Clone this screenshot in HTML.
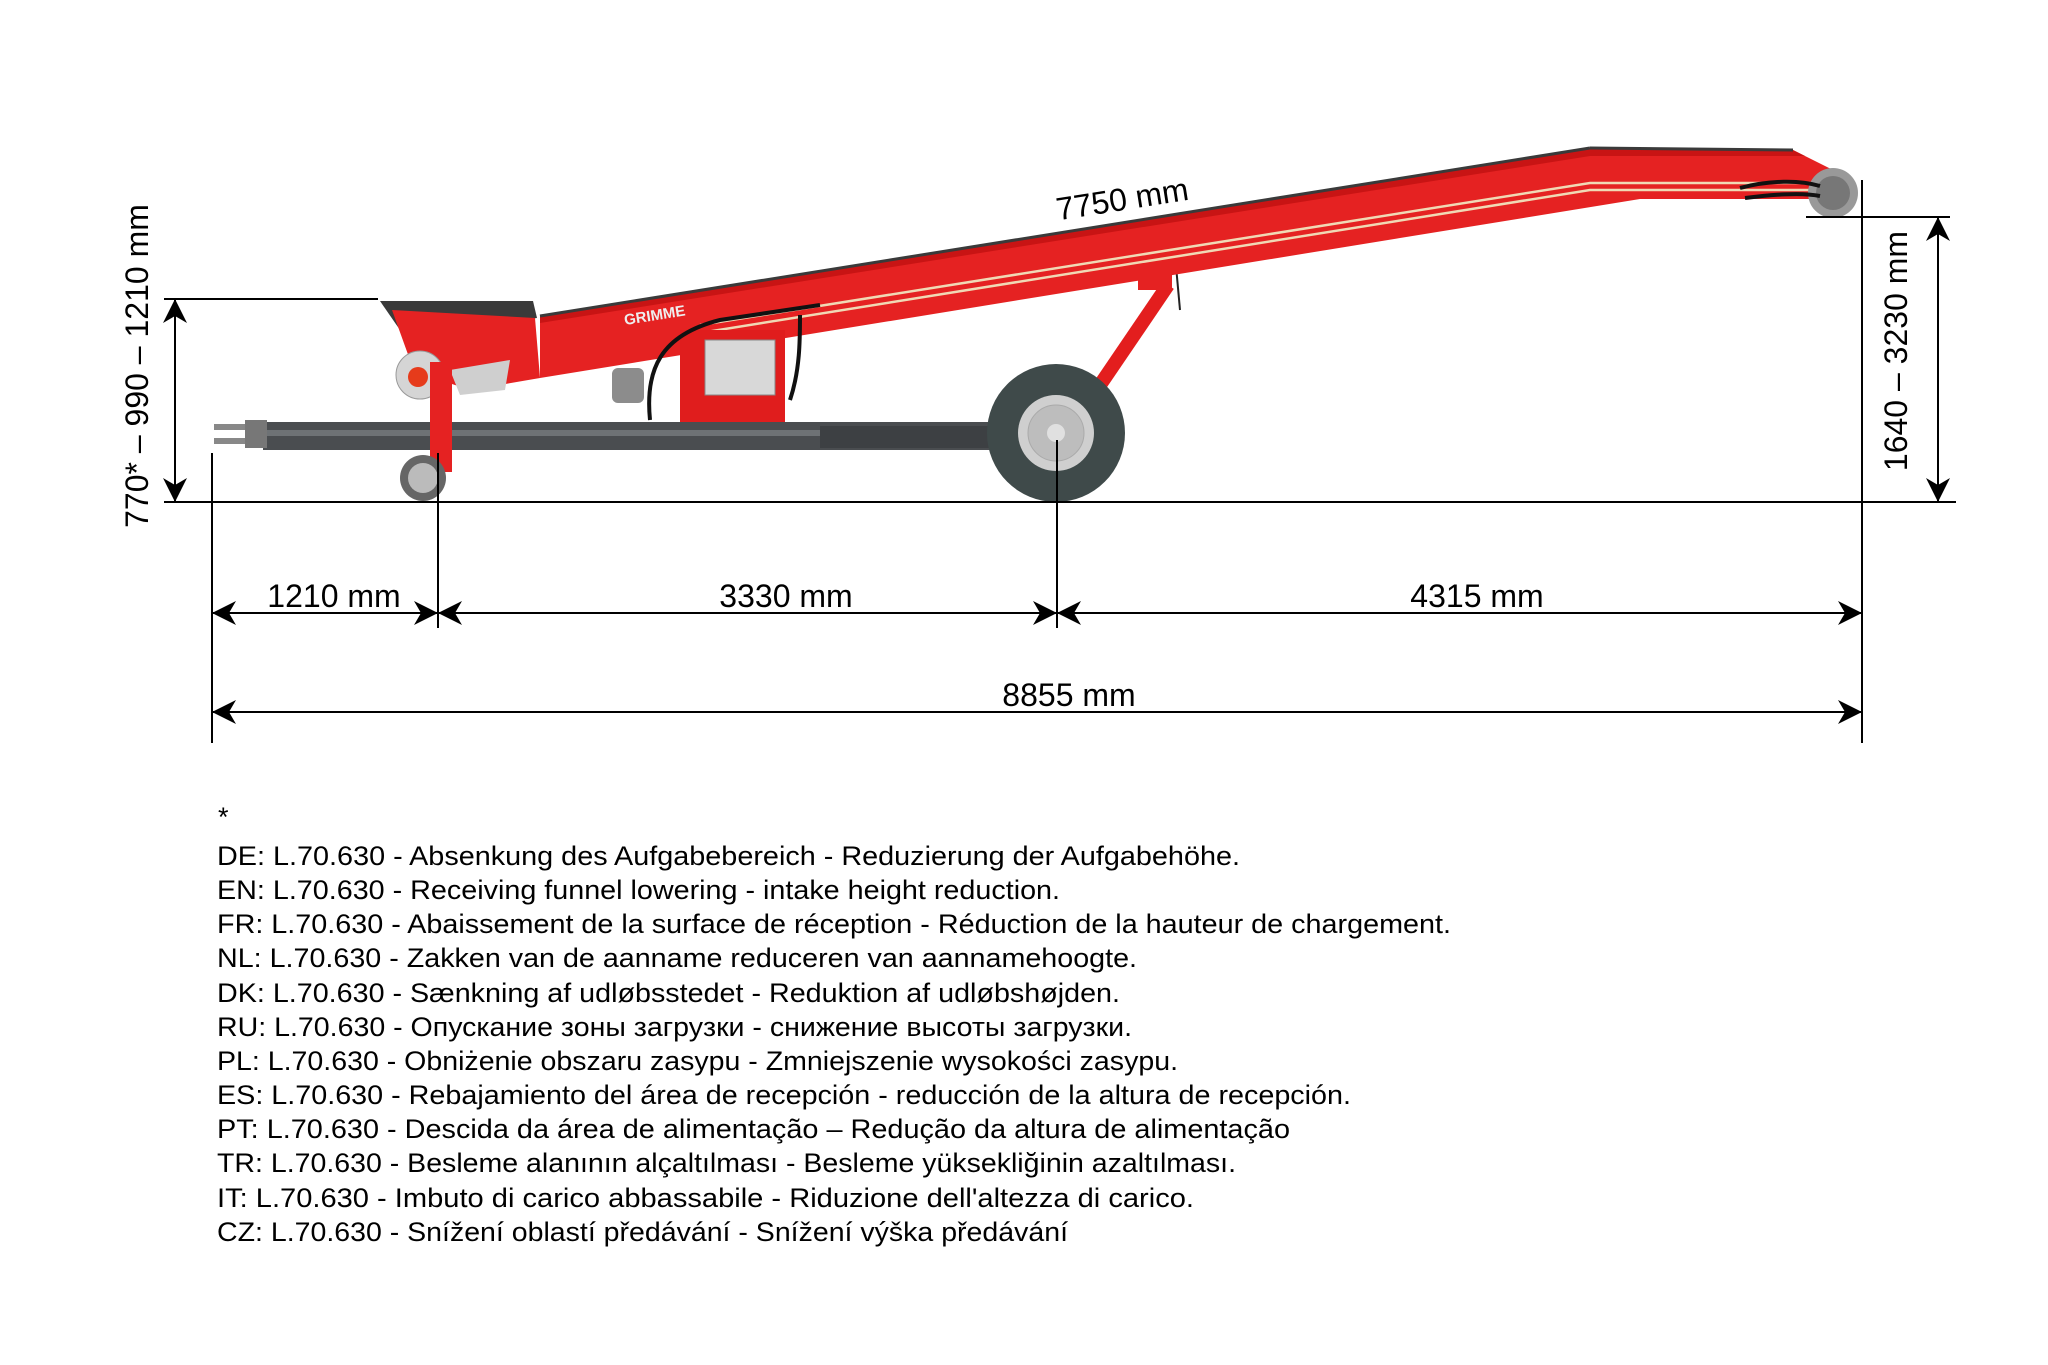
<!DOCTYPE html>
<html><head><meta charset="utf-8"><style>
html,body{margin:0;padding:0;background:#fff;}
svg{display:block;}
text{font-family:"Liberation Sans",Arial,sans-serif;fill:#000;}
</style></head><body>
<svg width="2048" height="1365" viewBox="0 0 2048 1365" xmlns="http://www.w3.org/2000/svg">
<defs>
<marker id="ah" viewBox="0 0 24 24" refX="23" refY="12" markerWidth="24" markerHeight="24" markerUnits="userSpaceOnUse" orient="auto-start-reverse">
<path d="M0,0 L24,12 L0,24 L7,12 Z" fill="#000"/>
</marker>
</defs>

<!-- drawbar -->
<rect x="263" y="422" width="735" height="28" fill="#4a4d50"/>
<rect x="263" y="430" width="735" height="6" fill="#6e7275"/>
<rect x="820" y="426" width="180" height="22" fill="#3d4043"/>
<rect x="214" y="424" width="50" height="6" fill="#888"/>
<rect x="214" y="438" width="50" height="6" fill="#888"/>
<rect x="245" y="420" width="22" height="28" fill="#777"/>

<!-- strut to wheel -->
<line x1="1100" y1="385" x2="1168" y2="285" stroke="#e31e1e" stroke-width="14"/>
<rect x="1138" y="258" width="34" height="32" fill="#e52222"/>
<line x1="1175" y1="255" x2="1180" y2="310" stroke="#222" stroke-width="2"/>

<!-- belt -->
<polygon points="540,316 1590,148 1793,150 1843,175 1850,205 1830,218 1810,199 1640,199 540,378" fill="#e52222"/>
<polygon points="540,316 1590,148 1793,150 1805,156 1590,156 540,323" fill="#c81414"/>
<line x1="540" y1="316" x2="1590" y2="148" stroke="#3a3a3a" stroke-width="3"/>
<line x1="1590" y1="148" x2="1793" y2="150" stroke="#3a3a3a" stroke-width="3"/>
<polyline points="700,325 1590,183 1810,183" fill="none" stroke="#f0d9b5" stroke-width="2.5"/>
<polyline points="700,333 1590,190 1810,190" fill="none" stroke="#f0d9b5" stroke-width="2.5"/>
<circle cx="1833" cy="193" r="25" fill="#999"/>
<circle cx="1833" cy="193" r="17" fill="#777"/>
<path d="M1740,188 C1770,180 1800,180 1820,186" stroke="#111" stroke-width="4" fill="none"/>
<path d="M1745,198 C1770,195 1800,192 1820,196" stroke="#111" stroke-width="4" fill="none"/>

<!-- funnel -->
<polygon points="380,301 533,301 537,318 450,330 400,330" fill="#3a3a3a"/>
<polygon points="392,310 535,318 540,378 470,390 440,380 410,360" fill="#e52222"/>
<text x="625" y="325" font-size="15" font-weight="bold" transform="rotate(-9 625 325)" style="fill:#eee">GRIMME</text>

<!-- pulley and caster leg -->
<circle cx="420" cy="375" r="24" fill="#d5d5d5" stroke="#999"/>
<circle cx="418" cy="377" r="10" fill="#e63b1b"/>
<polygon points="450,370 510,360 505,390 460,395" fill="#cfcfcf"/>
<rect x="430" y="362" width="22" height="110" fill="#e52222"/>
<circle cx="423" cy="478" r="23" fill="#666"/>
<circle cx="423" cy="478" r="15" fill="#bbb"/>

<!-- hydraulic / motor -->
<rect x="612" y="368" width="32" height="35" rx="6" fill="#8c8c8c"/>
<rect x="680" y="330" width="105" height="92" fill="#e01d1d"/>
<rect x="705" y="340" width="70" height="55" fill="#d8d8d8" stroke="#888"/>
<path d="M650,420 C645,370 660,335 720,320 L820,305" stroke="#111" stroke-width="4" fill="none"/>
<path d="M790,400 C800,370 800,340 800,315" stroke="#111" stroke-width="4" fill="none"/>

<!-- wheel -->
<circle cx="1056" cy="433" r="69" fill="#3f4a4a"/>
<circle cx="1056" cy="433" r="38" fill="#cfcfcf"/>
<circle cx="1056" cy="433" r="28" fill="#bdbdbd" stroke="#aaa"/>
<circle cx="1056" cy="433" r="9" fill="#e0e0e0"/>

<!-- dimension lines -->
<g stroke="#000" stroke-width="2" fill="none">
<line x1="164" y1="502" x2="1956" y2="502"/>
<line x1="212" y1="453" x2="212" y2="743"/>
<line x1="438" y1="453" x2="438" y2="628"/>
<line x1="1057" y1="440" x2="1057" y2="628"/>
<line x1="1862" y1="180" x2="1862" y2="743"/>
<line x1="164" y1="299" x2="378" y2="299"/>
<line x1="1806" y1="217" x2="1950" y2="217"/>
<line x1="175" y1="300" x2="175" y2="501" marker-start="url(#ah)" marker-end="url(#ah)"/>
<line x1="1938" y1="218" x2="1938" y2="501" marker-start="url(#ah)" marker-end="url(#ah)"/>
<line x1="213" y1="613" x2="437" y2="613" marker-start="url(#ah)" marker-end="url(#ah)"/>
<line x1="439" y1="613" x2="1056" y2="613" marker-start="url(#ah)" marker-end="url(#ah)"/>
<line x1="1058" y1="613" x2="1861" y2="613" marker-start="url(#ah)" marker-end="url(#ah)"/>
<line x1="213" y1="712" x2="1861" y2="712" marker-start="url(#ah)" marker-end="url(#ah)"/>
</g>

<g font-size="32" text-anchor="middle">
<text x="334" y="607">1210 mm</text>
<text x="786" y="607">3330 mm</text>
<text x="1477" y="607">4315 mm</text>
<text x="1069" y="706">8855 mm</text>
<text x="1124" y="210" transform="rotate(-9 1124 210)">7750 mm</text>
<text x="148" y="366" transform="rotate(-90 148 366)">770* – 990 – 1210 mm</text>
<text x="1907" y="351" transform="rotate(-90 1907 351)">1640 – 3230 mm</text>
</g>

<g font-size="27">
<text x="218" y="826">*</text>
<text x="217" y="865" textLength="1023" lengthAdjust="spacingAndGlyphs">DE: L.70.630 - Absenkung des Aufgabebereich - Reduzierung der Aufgabehöhe.</text>
<text x="217" y="899" textLength="843" lengthAdjust="spacingAndGlyphs">EN: L.70.630 - Receiving funnel lowering - intake height reduction.</text>
<text x="217" y="933" textLength="1234" lengthAdjust="spacingAndGlyphs">FR: L.70.630 - Abaissement de la surface de réception - Réduction de la hauteur de chargement.</text>
<text x="217" y="967" textLength="920" lengthAdjust="spacingAndGlyphs">NL: L.70.630 - Zakken van de aanname reduceren van aannamehoogte.</text>
<text x="217" y="1002" textLength="903" lengthAdjust="spacingAndGlyphs">DK: L.70.630 - Sænkning af udløbsstedet - Reduktion af udløbshøjden.</text>
<text x="217" y="1036" textLength="915" lengthAdjust="spacingAndGlyphs">RU: L.70.630 - Опускание зоны загрузки - снижение высоты загрузки.</text>
<text x="217" y="1070" textLength="961" lengthAdjust="spacingAndGlyphs">PL: L.70.630 - Obniżenie obszaru zasypu - Zmniejszenie wysokości zasypu.</text>
<text x="217" y="1104" textLength="1134" lengthAdjust="spacingAndGlyphs">ES: L.70.630 - Rebajamiento del área de recepción - reducción de la altura de recepción.</text>
<text x="217" y="1138" textLength="1073" lengthAdjust="spacingAndGlyphs">PT: L.70.630 - Descida da área de alimentação – Redução da altura de alimentação</text>
<text x="217" y="1172" textLength="1019" lengthAdjust="spacingAndGlyphs">TR: L.70.630 - Besleme alanının alçaltılması - Besleme yüksekliğinin azaltılması.</text>
<text x="217" y="1207" textLength="977" lengthAdjust="spacingAndGlyphs">IT:  L.70.630 - Imbuto di carico abbassabile - Riduzione dell'altezza di carico.</text>
<text x="217" y="1241" textLength="851" lengthAdjust="spacingAndGlyphs">CZ: L.70.630 - Snížení oblastí předávání - Snížení výška předávání</text>
</g>
</svg>
</body></html>
